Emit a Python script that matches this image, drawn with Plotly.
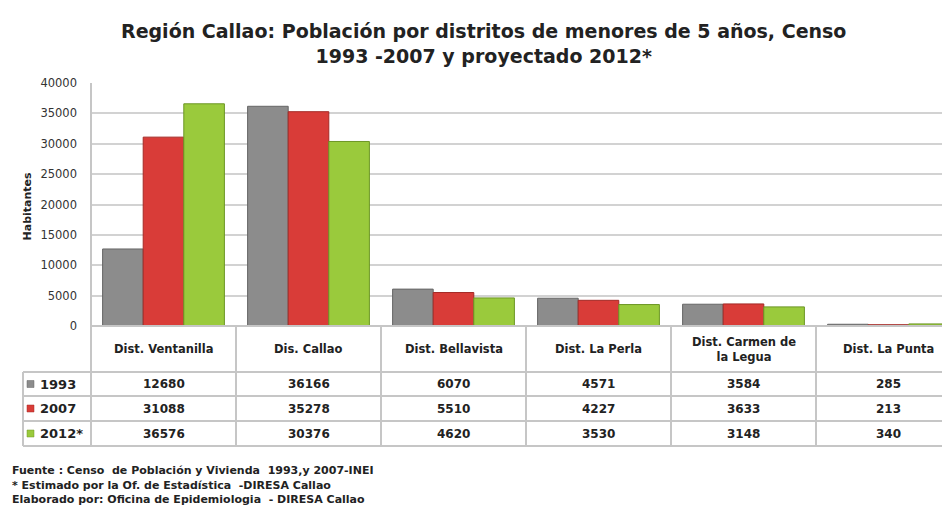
import plotly.graph_objects as go

districts = ["Dist. Ventanilla", "Dis. Callao", "Dist. Bellavista", "Dist. La Perla",
             "Dist. Carmen de<br>la Legua", "Dist. La Punta"]
years = ["1993", "2007", "2012*"]
v1993 = [12680, 36166, 6070, 4571, 3584, 285]
v2007 = [31088, 35278, 5510, 4227, 3633, 213]
v2012 = [36576, 30376, 4620, 3530, 3148, 340]
series = [v1993, v2007, v2012]
colors = ["#8c8c8c", "#d93c38", "#9aca3c"]
edges = ["#666666", "#a42a26", "#6c9624"]
yticks = [0, 5000, 10000, 15000, 20000, 25000, 30000, 35000, 40000]
title = "Región Callao: Población por distritos de menores de 5 años, Censo<br>1993 -2007 y proyectado 2012*"
notes = ["Fuente : Censo  de Población y Vivienda  1993,y 2007-INEI",
         "* Estimado por la Of. de Estadística  -DIRESA Callao",
         "Elaborado por: Oficina de Epidemiologia  - DIRESA Callao"]

FONT = "DejaVu Sans"
OFF = 8  # page body margin in the browser
# target screen coordinates of the plot area
L, R, T, B = 91, 950, 83, 326
W, H = 950 - OFF, 511 - OFF
n = len(districts)
xs = list(range(n))
CAT_W = 145

def py(Y):
    return (B - Y) / (B - T)

def px(X):
    return (X - L) / (R - L)

fig = go.Figure()
for name, vals, c, e in zip(years, series, colors, edges):
    fig.add_trace(go.Bar(x=xs, y=vals, name=name, marker=dict(color=c, line=dict(color=e, width=1)),
                         hoverinfo="skip"))

shapes = []
annotations = []
line_col = "#c6c6c6"
row_y = [372, 396, 421, 446]
shapes.append(dict(type="line", xref="paper", yref="paper", x0=0, x1=1, y0=py(B), y1=py(B),
                   line=dict(color=line_col, width=2)))
for Y in row_y:
    shapes.append(dict(type="line", xref="paper", yref="paper", x0=px(23), x1=1, y0=py(Y), y1=py(Y),
                       line=dict(color=line_col, width=2)))
shapes.append(dict(type="line", xref="paper", yref="paper", x0=0, x1=0, y0=1, y1=py(row_y[-1]),
                   line=dict(color=line_col, width=2)))
shapes.append(dict(type="line", xref="paper", yref="paper", x0=px(23), x1=px(23), y0=py(row_y[0]),
                   y1=py(row_y[-1]), line=dict(color=line_col, width=2)))
for i in range(n - 1):
    shapes.append(dict(type="line", xref="x", yref="paper", x0=i + 0.5, x1=i + 0.5, y0=py(B),
                       y1=py(row_y[-1]), line=dict(color=line_col, width=2)))
for i, d in enumerate(districts):
    annotations.append(dict(x=i, y=py(349), xref="x", yref="paper", text="<b>" + d + "</b>", showarrow=False,
                            font=dict(family=FONT, size=11.5, color="#222"), yanchor="middle"))
for r, (name, vals, c, e) in enumerate(zip(years, series, colors, edges)):
    yc = (row_y[r] + row_y[r + 1]) / 2
    shapes.append(dict(type="rect", xref="paper", yref="paper", x0=px(27), x1=px(34),
                       y0=py(yc + 3.5), y1=py(yc - 3.5), fillcolor=c, line=dict(color=e, width=0.5)))
    annotations.append(dict(x=px(38), y=py(yc), xref="paper", yref="paper", text="<b>" + name + "</b>",
                            showarrow=False, xanchor="left", yanchor="middle",
                            font=dict(family=FONT, size=13, color="#222")))
    for i, v in enumerate(vals):
        annotations.append(dict(x=i, y=py(yc), xref="x", yref="paper", text="<b>" + str(v) + "</b>",
                                showarrow=False, yanchor="middle",
                                font=dict(family=FONT, size=12, color="#222")))
for k, t in enumerate(notes):
    annotations.append(dict(x=px(10), y=py(471 + 14 * k), xref="paper", yref="paper", text="<b>" + t + "</b>",
                            showarrow=False, xanchor="left", yanchor="middle",
                            font=dict(family=FONT, size=11, color="#222")))
annotations.append(dict(x=px(18), y=py(206), xref="paper", yref="paper", text="<b>Habitantes</b>", textangle=-90,
                        showarrow=False, font=dict(family=FONT, size=11, color="#222")))
annotations.append(dict(x=px(483), y=py(43), xref="paper", yref="paper", text="<b>" + title + "</b>",
                        showarrow=False, xanchor="center", yanchor="middle",
                        font=dict(family=FONT, size=19, color="#222")))

fig.update_layout(
    width=W, height=H, autosize=False,
    margin=dict(l=L - OFF, r=(950 - OFF) - (R - OFF), t=T - OFF, b=H - (B - OFF), pad=0),
    paper_bgcolor="white", plot_bgcolor="white",
    barmode="group", bargap=0.16, bargroupgap=0,
    showlegend=False,
    shapes=shapes, annotations=annotations,
    xaxis=dict(range=[-0.5, -0.5 + (R - L) / CAT_W], showticklabels=False, showgrid=False, zeroline=False,
               ticks="", fixedrange=True),
    yaxis=dict(range=[0, 40000], tickvals=yticks, ticktext=[str(t) for t in yticks], showgrid=True,
               gridcolor="#d2d2d2", gridwidth=2, zeroline=False, ticks="", ticklabelstandoff=13,
               tickfont=dict(family=FONT, size=11.5, color="#333"), fixedrange=True),
)
fig.write_html("out.html")
